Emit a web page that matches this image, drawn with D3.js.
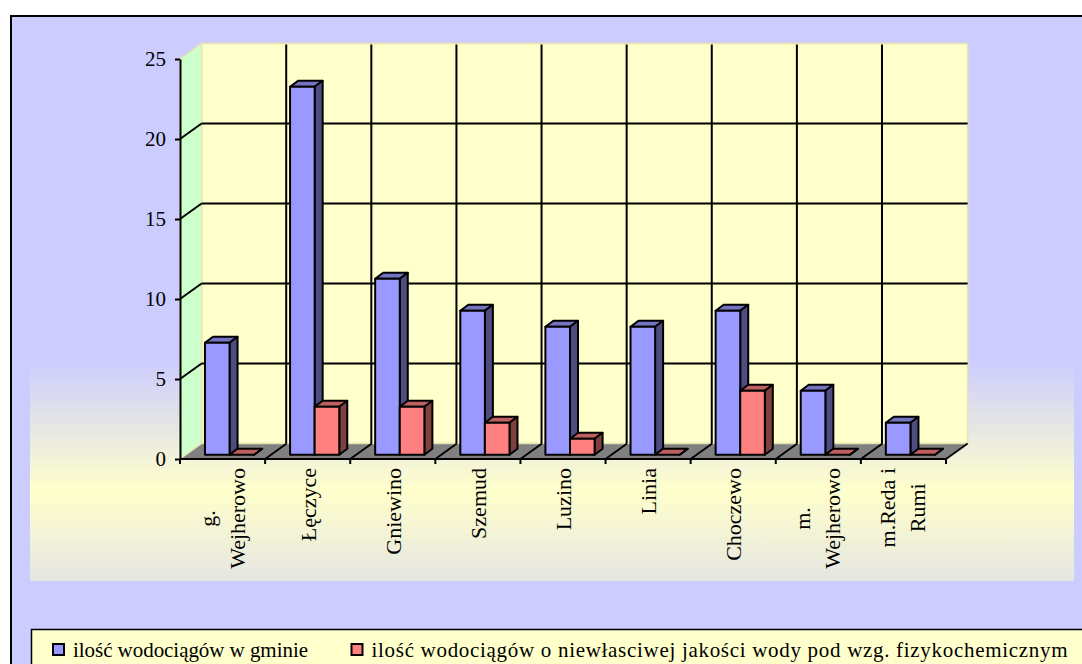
<!DOCTYPE html>
<html lang="pl">
<head>
	<meta charset="UTF-8">
	<title>Wodociagi</title>
	<script src="https://d3js.org/d3.v7.min.js"></script>
	<style>
		body { margin: 0; background: #fff; }
		svg { display: block; }
		text { font-family: "Liberation Serif", serif; fill: #000; }
	</style>
</head>
<body>
	<div id="main"></div>
<script>
	// data
	var categories = ["g. Wejherowo", "Łęczyce", "Gniewino", "Szemud", "Luzino", "Linia", "Choczewo", "m. Wejherowo", "m.Reda i Rumi"];
	var categoryLines = [["g.", "Wejherowo"], ["Łęczyce"], ["Gniewino"], ["Szemud"], ["Luzino"], ["Linia"], ["Choczewo"], ["m.", "Wejherowo"], ["m.Reda i", "Rumi"]];
	var seriesNames = ["ilość wodociągów w gminie", "ilość wodociągów o niewłasciwej jakości wody pod wzg. fizykochemicznym"];
	var blueValues = [7, 23, 11, 9, 8, 8, 9, 4, 2];
	var redValues = [0, 3, 3, 2, 1, 0, 4, 0, 0];
	var yTicks = [0, 5, 10, 15, 20, 25];

	var width = 1082, height = 664;

	// 3d offsets
	var wallDx = 21.6, wallDy = -15.5;
	var barDx = 7, barDy = -4.2;
	var sideDx = 8, sideDy = -6;

	var x = d3.scaleBand().domain(categories).range([180, 946]);
	var inner = d3.scaleBand().domain([0, 1]).range([0, x.bandwidth()]).paddingOuter(0.73).paddingInner(0);
	var y = d3.scaleLinear().domain([0, 25]).range([459, 59]);

	var svg = d3.select("#main").append("svg")
		.attr("width", width)
		.attr("height", height);

	var defs = svg.append("defs");
	var grad = defs.append("linearGradient").attr("id", "bg").attr("x1", 0).attr("x2", 0).attr("y1", 0).attr("y2", 1);
	grad.append("stop").attr("offset", 0).attr("stop-color", "#ccccff");
	grad.append("stop").attr("offset", 0.59).attr("stop-color", "#ffffcc");
	grad.append("stop").attr("offset", 1).attr("stop-color", "#e6e6e2");

	// chart area
	svg.append("rect").attr("x", 11).attr("y", 16).attr("width", 1100).attr("height", 700)
		.attr("fill", "#ccccff").attr("stroke", "#000").attr("stroke-width", 2);
	svg.append("rect").attr("x", 30).attr("y", 360).attr("width", 1044).attr("height", 221)
		.attr("fill", "url(#bg)");

	function poly(pts) {
		return pts.map(function(p){ return p[0] + "," + p[1]; }).join(" ");
	}

	var x0 = x.range()[0], x1 = x.range()[1];
	var edges = categories.map(function(c){ return x(c); }).concat([x1]);
	var wallLine = "#e6e6b0";

	// back wall, side wall, floor
	svg.append("polygon")
		.attr("points", poly([[x0 + wallDx, y(25) + wallDy], [x1 + wallDx, y(25) + wallDy], [x1 + wallDx, y(0) + wallDy], [x0 + wallDx, y(0) + wallDy]]))
		.attr("fill", "#ffffcc").attr("stroke", wallLine).attr("stroke-width", 1.5);
	svg.append("polygon")
		.attr("points", poly([[x0, y(25)], [x0 + wallDx, y(25) + wallDy], [x0 + wallDx, y(0) + wallDy], [x0, y(0)]]))
		.attr("fill", "#ccffcc").attr("stroke", wallLine).attr("stroke-width", 1.5);
	svg.append("polygon")
		.attr("points", poly([[x0, y(0)], [x0 + wallDx, y(0) + wallDy], [x1 + wallDx, y(0) + wallDy], [x1, y(0)]]))
		.attr("fill", "#808080").attr("stroke", wallLine).attr("stroke-width", 1.5);

	// grid
	var grid = svg.append("g").attr("stroke", "#000").attr("stroke-width", 2);
	yTicks.filter(function(t){ return t > 0 && t < 25; }).forEach(function(t){
		grid.append("line").attr("x1", x0).attr("y1", y(t)).attr("x2", x0 + wallDx).attr("y2", y(t) + wallDy);
		grid.append("line").attr("x1", x0 + wallDx).attr("y1", y(t) + wallDy).attr("x2", x1 + wallDx).attr("y2", y(t) + wallDy);
	});
	edges.slice(1, -1).forEach(function(e){
		grid.append("line").attr("x1", e + wallDx - 0.5).attr("y1", y(25) + wallDy + 1).attr("x2", e + wallDx - 0.5).attr("y2", y(0) + wallDy);
	});
	// floor lines
	edges.slice(1).forEach(function(e){
		grid.append("line").attr("x1", e).attr("y1", y(0)).attr("x2", e + wallDx).attr("y2", y(0) + wallDy);
	});

	// bars
	var shades = [
		{front: "#9999ff", top: "#7373bf", side: "#4d4d80"},
		{front: "#ff8080", top: "#bf6060", side: "#804040"}
	];
	function drawBar(g, left, w, value, c) {
		var fx = left + barDx, b = y(0) + barDy, t = y(value) + barDy;
		g.append("polygon").attr("points", poly([[fx, t], [fx + sideDx, t + sideDy], [fx + w + sideDx, t + sideDy], [fx + w, t]])).attr("fill", c.top);
		g.append("polygon").attr("points", poly([[fx + w, t], [fx + w + sideDx, t + sideDy], [fx + w + sideDx, b + sideDy], [fx + w, b]])).attr("fill", c.side);
		g.append("rect").attr("x", fx).attr("y", t).attr("width", w).attr("height", b - t).attr("fill", c.front);
	}
	var bars = svg.append("g").attr("stroke", "#000").attr("stroke-width", 2).attr("stroke-linejoin", "round");
	categories.forEach(function(c, i){
		var g = bars.append("g");
		drawBar(g, x(c) + inner(0), inner.bandwidth(), blueValues[i], shades[0]);
		drawBar(g, x(c) + inner(1), inner.bandwidth(), redValues[i], shades[1]);
	});

	// y axis
	var yAxis = d3.axisLeft(y).tickValues(yTicks).tickSize(5).tickSizeOuter(0).tickPadding(9);
	var yG = svg.append("g").attr("transform", "translate(" + x0 + ",0)").call(yAxis);
	yG.selectAll("line").attr("stroke", "#000").attr("stroke-width", 2);
	yG.select(".domain").attr("stroke", "#000").attr("stroke-width", 2);
	yG.selectAll("text").style("font-family", '"Liberation Serif", serif').style("font-size", "21px").attr("fill", "#000");

	// x axis
	var xG = svg.append("g").attr("stroke", "#000").attr("stroke-width", 2);
	xG.append("line").attr("x1", x0).attr("y1", y(0)).attr("x2", x1).attr("y2", y(0));
	edges.forEach(function(e){
		xG.append("line").attr("x1", e).attr("y1", y(0)).attr("x2", e).attr("y2", y(0) + 5);
	});

	// category labels, rotated, block hangs from under the axis
	var labelTop = 468;
	categories.forEach(function(c, i){
		var lines = categoryLines[i];
		var cx = x(c) + x.bandwidth() / 2;
		var baseX = lines.length == 1 ? cx + 8 : cx - 8;
		var nodes = lines.map(function(l, k){
			return svg.append("text")
				.attr("text-anchor", "middle")
				.style("font-size", "22px")
				.text(l)
				.datum(baseX + k * 30);
		});
		var maxW = d3.max(nodes, function(n){ return n.node().getComputedTextLength(); });
		nodes.forEach(function(n){
			n.attr("transform", "translate(" + n.datum() + "," + (labelTop + maxW / 2) + ") rotate(-90)");
		});
	});

	// legend
	var legend = svg.append("g");
	legend.append("rect").attr("x", 31.5).attr("y", 629.5).attr("width", 1100).attr("height", 60)
		.attr("fill", "#ffffcc").attr("stroke", "#000").attr("stroke-width", 1.5);
	var legendX = d3.scaleOrdinal().domain([0, 1]).range([52, 350.5]);
	var legendTextWidth = [235, 696];
	seriesNames.forEach(function(s, i){
		legend.append("rect").attr("x", legendX(i) + 1).attr("y", 644).attr("width", 11).attr("height", 11)
			.attr("fill", shades[i].front).attr("stroke", "#000").attr("stroke-width", 2);
		legend.append("text").attr("x", legendX(i) + 21).attr("y", 657)
			.attr("textLength", legendTextWidth[i]).attr("lengthAdjust", "spacing")
			.style("font-size", "21px").text(s);
	});
</script>
</body>
</html>
